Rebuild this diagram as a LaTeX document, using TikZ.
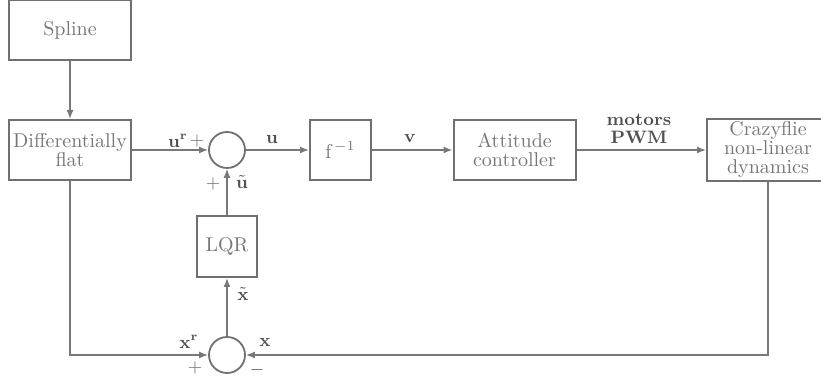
\documentclass[tikz,border=0pt]{standalone}
\usepackage{amsmath}
\usepackage{amssymb}
\usepackage{xcolor}
\usepackage{tikz}
\usetikzlibrary{arrows.meta, positioning, calc}

\definecolor{boxgray}{RGB}{112,112,112}
\definecolor{wiregray}{RGB}{120,120,120}
\definecolor{textgray}{RGB}{118,118,118}
\definecolor{labelgray}{RGB}{80,80,80}

\tikzset{
  block/.style={draw=boxgray, line width=1pt, fill=white, minimum width=61pt, minimum height=30pt,
    inner sep=1pt, align=center, text=textgray, font=\fontsize{10}{9.5}\selectfont},
  sumnode/.style={draw=boxgray, circle, line width=0.9pt, minimum size=18pt, inner sep=0pt},
  wire/.style={draw=wiregray, line width=0.7pt},
  lbl/.style={text=labelgray, font=\small\bfseries, inner sep=0pt, align=center},
  sign/.style={text=textgray, font=\small, inner sep=0pt}
}

\begin{document}
\begin{tikzpicture}[x=0.5pt, y=-0.5pt, >={Latex[length=4.5pt,width=3.5pt]}]
      \useasboundingbox (0,0) rectangle (821,383);

      % Blocks of the loop
      \node[block] (spline) at (70,30) {Spline};
      \node[block] (flat) at (70,150) {Differentially\\flat};
      \node[sumnode] (sumu) at (227,150) {};
      \node[block, minimum width=30.5pt] (finv) at (340.5,150) {f$^{\,-1}$};
      \node[block] (att) at (514.5,150) {Attitude\\controller};
      \node[block, minimum height=31pt] (crazy) at (768,150) {Crazyflie\\non-linear\\dynamics};
      \node[block, minimum width=30pt, minimum height=30.5pt] (lqr) at (227,246.5) {LQR};
      \node[sumnode] (sumx) at (227,355) {};

      % Forward path
      \draw[wire, ->] (spline) -- (flat);
      \draw[wire, ->] (flat) -- (sumu);
      \draw[wire, ->] (sumu) -- (finv);
      \draw[wire, ->] (finv) -- (att);
      \draw[wire, ->] (att) -- (crazy);

      % Feedback path
      \draw[wire, ->] (crazy.south) |- (sumx);
      \draw[wire, ->] (flat.south) |- (sumx);
      \draw[wire, ->] (sumx) -- (lqr);
      \draw[wire, ->] (lqr) -- (sumu);

      % Signal labels
      \node[lbl] (ur) at (178,141) {$\mathbf{u}^{\mathbf{r}}$};
      \node[sign] (urplus) at (197,141) {$+$};
      \node[lbl] (ulab) at (272,140) {$\mathbf{u}$};
      \node[lbl] (vlab) at (410,139) {$\mathbf{v}$};
      \node[lbl] (pwm) at (639,129) {motors\\[-2pt]PWM};
      \node[sign] (utplus) at (213,184) {$+$};
      \node[lbl] (ut) at (242,182) {$\tilde{\mathbf{u}}$};
      \node[lbl] (xt) at (243,294) {$\tilde{\mathbf{x}}$};
      \node[lbl] (xr) at (189,342) {$\mathbf{x}^{\mathbf{r}}$};
      \node[lbl] (xlab) at (265,343) {$\mathbf{x}$};
      \node[sign] (xrplus) at (195,368) {$+$};
      \node[lbl] (xminus) at (257,370) {$-$};
\end{tikzpicture}
\end{document}
